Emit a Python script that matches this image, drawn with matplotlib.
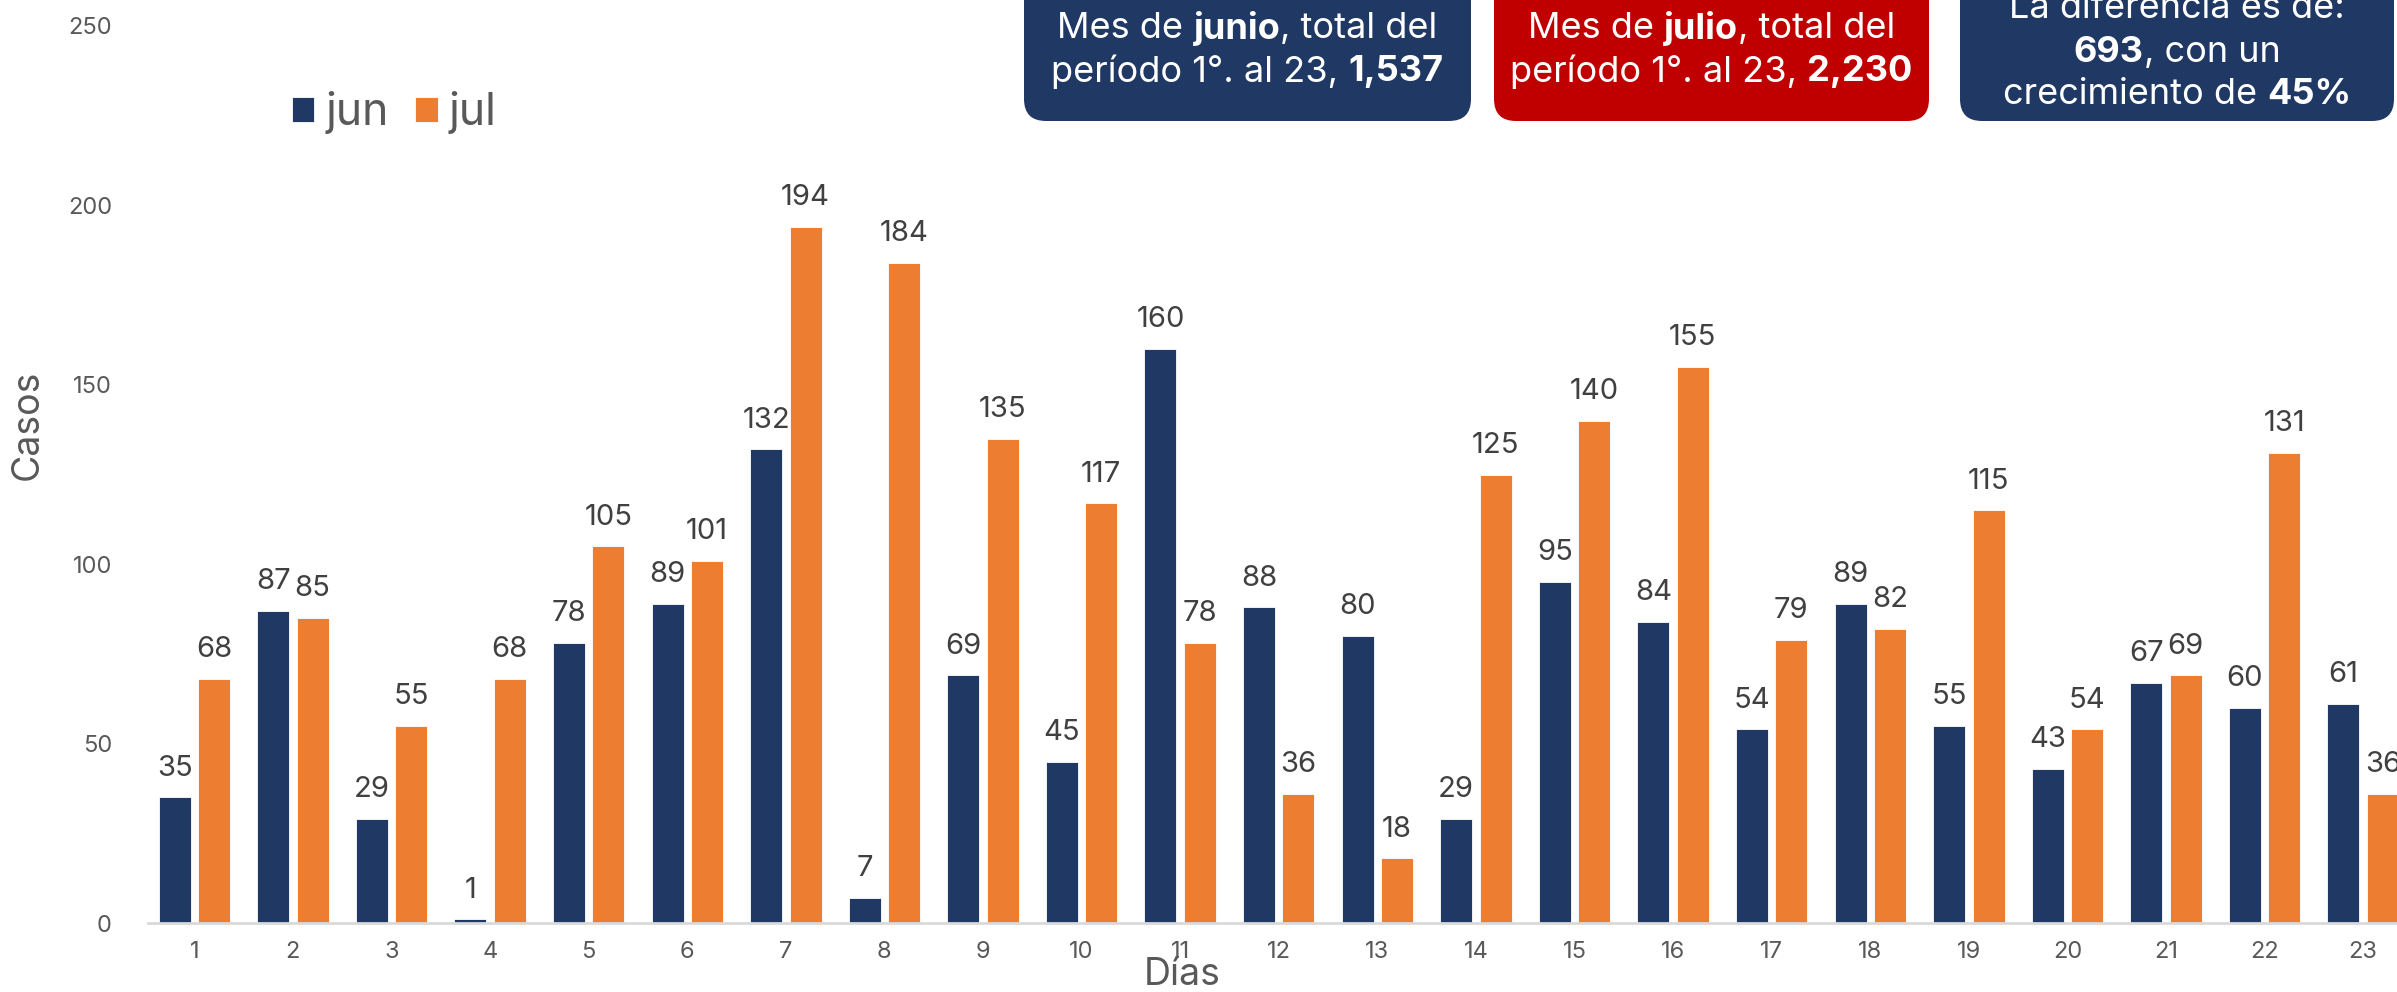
import numpy as np
import matplotlib.pyplot as plt
from matplotlib.patches import FancyBboxPatch

# ── data ──────────────────────────────────────────────────────────────────────
days = [str(d) for d in range(1, 24)]
jun = [35, 87, 29, 1, 78, 89, 132, 7, 69, 45, 160, 88, 80, 29, 95, 84, 54, 89, 55, 43, 67, 60, 61]
jul = [68, 85, 55, 68, 105, 101, 194, 184, 135, 117, 78, 36, 18, 125, 140, 155, 79, 82, 115, 54, 69, 131, 36]
series_names = ['jun', 'jul']

C_JUN = '#203864'
C_JUL = '#ED7D31'
C_RED = '#C00000'
GREY = '#595959'

plt.rcParams['font.family'] = ['Inter', 'DejaVu Sans']

W, H = 2397, 992
fig = plt.figure(figsize=(W / 100, H / 100), dpi=100)

# ── main bar chart ───────────────────────────────────────────────────────────
ax = fig.add_axes([148 / W, 1 - 923 / H, 1 - 148 / W, (923 - 26) / H])
x = np.arange(len(days))
bw = 0.325
b1 = ax.bar(x - 0.2, jun, bw, color=C_JUN, edgecolor='white', lw=0.6, label=series_names[0])
b2 = ax.bar(x + 0.2, jul, bw, color=C_JUL, edgecolor='white', lw=0.6, label=series_names[1])

for bars in (b1, b2):
    for r in bars:
        ax.annotate(f'{int(r.get_height())}', (r.get_x() + r.get_width() / 2, r.get_height()),
                    xytext=(0, 21), textcoords='offset points',
                    ha='center', va='center', fontsize=21, color='#404040')

ax.set_xlim(-0.47, len(days) - 1 + 0.343)
ax.set_ylim(0, 250)
ax.set_yticks(range(0, 251, 50))
ax.set_xticks(x)
ax.set_xticklabels(days)
ax.tick_params(axis='both', length=0, labelsize=17, labelcolor=GREY)
ax.tick_params(axis='x', pad=13)
ax.tick_params(axis='y', pad=26)
for s in ['top', 'right', 'left']:
    ax.spines[s].set_visible(False)
ax.spines['bottom'].set_color('#D9D9D9')
ax.spines['bottom'].set_linewidth(2)
ax.patch.set_visible(False)

fig.text(28 / W, 1 - 425 / H, 'Casos', rotation=90, ha='center', va='center',
         fontsize=27, color=GREY)
fig.text(1182 / W, 1 - 975 / H, 'Días', ha='center', va='center',
         fontsize=27, color=GREY)

fig.legend(handles=[b1, b2], loc='center left', bbox_to_anchor=(292 / W, 1 - 113 / H),
           ncol=2, frameon=False, fontsize=32, handlelength=0.5, handleheight=0.5,
           handletextpad=0.25, columnspacing=0.6, labelcolor=GREY, borderaxespad=0,
           borderpad=0)

# ── info boxes (overlay in pixel units) ──────────────────────────────────────
ov = fig.add_axes([0, 0, 1, 1])
ov.set_xlim(0, W)
ov.set_ylim(H, 0)
ov.axis('off')
ov.patch.set_visible(False)

renderer = fig.canvas.get_renderer()


def part_width(s, w, size):
    t1 = ov.text(0, 0, 'X' + s + 'X', fontsize=size, fontweight=w)
    t2 = ov.text(0, 0, 'XX', fontsize=size, fontweight=w)
    d = t1.get_window_extent(renderer).width - t2.get_window_extent(renderer).width
    t1.remove()
    t2.remove()
    return d


def rich_line(xc, y, parts, size=26):
    widths = [part_width(s, w, size) for s, w in parts]
    xx = xc - sum(widths) / 2
    for (s, w), wd in zip(parts, widths):
        ov.text(xx, y, s, fontsize=size, fontweight=w, color='white',
                ha='left', va='center')
        xx += wd


boxes = [
    (1024, 1471, C_JUN, [
        [('Mes de ', 'normal'), ('junio', 'bold'), (', total del', 'normal')],
        [('período 1°. al 23, ', 'normal'), ('1,537', 'bold')],
    ], [29, 72]),
    (1494, 1929, C_RED, [
        [('Mes de ', 'normal'), ('julio', 'bold'), (', total del', 'normal')],
        [('período 1°. al 23, ', 'normal'), ('2,230', 'bold')],
    ], [29, 72]),
    (1960, 2394, C_JUN, [
        [('La diferencia es de:', 'normal')],
        [('693', 'bold'), (', con un', 'normal')],
        [('crecimiento de ', 'normal'), ('45%', 'bold')],
    ], [9, 52, 95]),
]

for x0, x1, col, lines, ys in boxes:
    ov.add_patch(FancyBboxPatch((x0 + 22, -60), x1 - x0 - 44, 121 + 60 - 22,
                                boxstyle='round,pad=22,rounding_size=22',
                                fc=col, ec='none'))
    for parts, y in zip(lines, ys):
        rich_line((x0 + x1) / 2, y, parts)

fig.savefig('out.png', dpi=100)
plt.close(fig)
